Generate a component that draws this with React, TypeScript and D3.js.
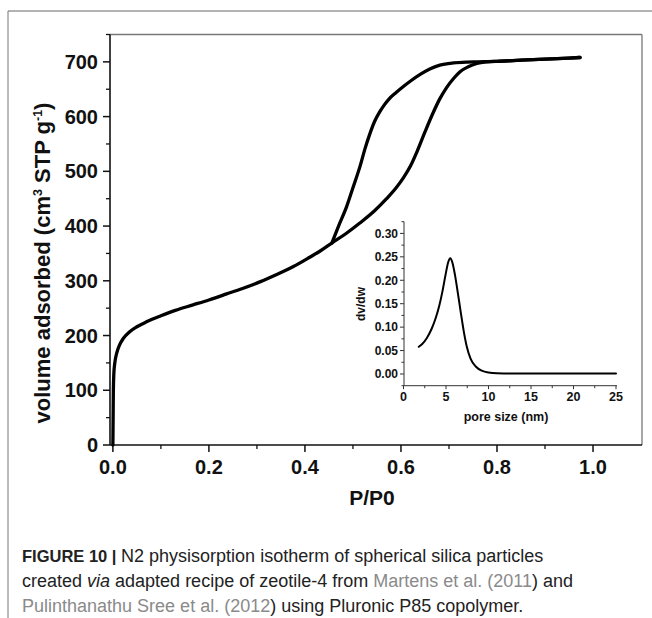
import React from 'react';
import * as d3 from 'd3';

const W = 652;
const H = 618;

// Main isotherm (P/P0, volume adsorbed)
const P_ADS = [0, 0.0005, 0.001, 0.002, 0.004, 0.008, 0.014, 0.022, 0.035, 0.05, 0.07, 0.1, 0.13, 0.167, 0.2, 0.237, 0.27, 0.306, 0.34, 0.376, 0.41, 0.431, 0.456, 0.485, 0.515, 0.545, 0.57, 0.59, 0.605, 0.62, 0.633, 0.65, 0.667, 0.68, 0.695, 0.71, 0.723, 0.74, 0.758, 0.78, 0.8, 0.85, 0.9, 0.95, 0.973];
const V_ADS = [0, 50, 100, 130, 150, 168, 183, 195, 207, 216, 225, 236, 246, 256, 265, 276, 286, 298, 311, 326, 343, 354, 369, 386, 406, 428, 450, 470, 488, 510, 535, 572, 607, 631, 653, 670, 682, 691, 697, 700, 701, 703, 705, 707, 708];
const P_DES = [0.456, 0.47, 0.487, 0.5, 0.515, 0.525, 0.535, 0.545, 0.556, 0.565, 0.575, 0.59, 0.605, 0.62, 0.64, 0.66, 0.681, 0.71, 0.737, 0.76, 0.78, 0.8, 0.85, 0.9, 0.95, 0.973];
const V_DES = [369, 400, 436, 470, 510, 541, 568, 591, 609, 621, 632, 644, 655, 665, 677, 687, 694, 698, 699.5, 700, 700.5, 701, 703, 705, 707, 708];

// Inset: pore size distribution
const PORE = [1.8, 2.2, 2.75, 3.3, 3.8, 4.2, 4.6, 4.95, 5.25, 5.5, 5.75, 6.05, 6.4, 6.75, 7.1, 7.45, 7.9, 8.5, 9.2, 10.0, 11, 13, 16, 20, 25];
const DVDW = [0.058, 0.064, 0.077, 0.096, 0.12, 0.145, 0.178, 0.212, 0.238, 0.247, 0.238, 0.212, 0.172, 0.13, 0.09, 0.058, 0.032, 0.016, 0.007, 0.003, 0.0015, 0.001, 0.001, 0.0008, 0.0008];

const X_TICKS = [0, 0.2, 0.4, 0.6, 0.8, 1.0];
const X_TICK_LABELS = ['0.0', '0.2', '0.4', '0.6', '0.8', '1.0'];
const Y_TICKS = [0, 100, 200, 300, 400, 500, 600, 700];
const Y_TICK_LABELS = ['0', '100', '200', '300', '400', '500', '600', '700'];
const IX_TICKS = [0, 5, 10, 15, 20, 25];
const IX_TICK_LABELS = ['0', '5', '10', '15', '20', '25'];
const IY_TICKS = [0, 0.05, 0.1, 0.15, 0.2, 0.25, 0.3];
const IY_TICK_LABELS = ['0.00', '0.05', '0.10', '0.15', '0.20', '0.25', '0.30'];

const FONT = '"Liberation Sans", Arial, Helvetica, sans-serif';

export default function App() {
  const left = 110, right = 642, top = 34.5, bottom = 445;
  const x = d3.scaleLinear().domain([-0.006, 1.102]).range([left, right]);
  const y = d3.scaleLinear().domain([0, 750]).range([bottom, top]);

  const ads = P_ADS.map((p, i) => [p, V_ADS[i]] as [number, number]);
  const des = P_DES.map((p, i) => [p, V_DES[i]] as [number, number]);
  const line = d3.line<[number, number]>().x(d => x(d[0])).y(d => y(d[1])).curve(d3.curveMonotoneX);

  const iLeft = 404, iRight = 617, iTop = 221.7, iBottom = 385.7;
  const ix = d3.scaleLinear().domain([0, 25]).range([403.5, 616]);
  const iy = d3.scaleLinear().domain([-0.025, 0.325]).range([iBottom, iTop]);
  const inset = PORE.map((p, i) => [p, DVDW[i]] as [number, number]);
  const iline = d3.line<[number, number]>().x(d => ix(d[0])).y(d => iy(d[1])).curve(d3.curveMonotoneX);

  const xMinor = d3.range(0.1, 1.1, 0.2);
  const yMinor = d3.range(50, 751, 100);
  const ixMinor = d3.range(2.5, 25, 5);
  const iyMinor = d3.range(-0.025, 0.326, 0.05);

  return (
    <svg width={W} height={H} style={{ position: 'absolute', left: 0, top: 0, display: 'block', background: '#fff' }} fontFamily={FONT}>
      <rect x={0} y={0} width={W} height={H} fill="#fff" />
      {/* outer frame */}
      <line x1={8} y1={11} x2={W} y2={11} stroke="#666" strokeWidth={1} />
      <line x1={8} y1={11} x2={8} y2={H} stroke="#777" strokeWidth={1} />

      {/* plot box top/right */}
      <line x1={left} y1={top} x2={right} y2={top} stroke="#777" strokeWidth={1.3} />
      <line x1={right} y1={top} x2={right} y2={bottom} stroke="#777" strokeWidth={1.3} />

      {/* main axes */}
      <line x1={left} y1={bottom} x2={right} y2={bottom} stroke="#111" strokeWidth={1.6} />
      <line x1={left} y1={top} x2={left} y2={bottom} stroke="#111" strokeWidth={1.6} />

      {X_TICKS.map((t, i) => (
        <g key={'xt' + i}>
          <line x1={x(t)} x2={x(t)} y1={bottom} y2={bottom + 7} stroke="#111" strokeWidth={1.5} />
          <text x={x(t)} y={474} textAnchor="middle" fontSize={20} fontWeight="bold" fill="#111">{X_TICK_LABELS[i]}</text>
        </g>
      ))}
      {xMinor.map((t, i) => (
        <line key={'xm' + i} x1={x(t)} x2={x(t)} y1={bottom} y2={bottom + 4} stroke="#111" strokeWidth={1.3} />
      ))}
      {Y_TICKS.map((t, i) => (
        <g key={'yt' + i}>
          <line x1={left - 7} x2={left} y1={y(t)} y2={y(t)} stroke="#111" strokeWidth={1.5} />
          <text x={98} y={y(t) + 7} textAnchor="end" fontSize={20} fontWeight="bold" fill="#111">{Y_TICK_LABELS[i]}</text>
        </g>
      ))}
      {yMinor.map((t, i) => (
        <line key={'ym' + i} x1={left - 4} x2={left} y1={y(t)} y2={y(t)} stroke="#111" strokeWidth={1.3} />
      ))}

      <text x={372} y={505} textAnchor="middle" fontSize={21} fontWeight="bold" fill="#111">P/P0</text>
      <text transform={`translate(50,263) rotate(-90)`} textAnchor="middle" fontSize={22} fontWeight="bold" fill="#111">
        volume adsorbed (cm<tspan dy={-8} fontSize={12.5}>3</tspan><tspan dy={8}> STP g</tspan><tspan dy={-8} fontSize={12.5}>-1</tspan><tspan dy={8}>)</tspan>
      </text>

      {/* isotherm */}
      <path d={line(ads) || ''} fill="none" stroke="#000" strokeWidth={3.3} strokeLinecap="round" strokeLinejoin="round" />
      <path d={line(des) || ''} fill="none" stroke="#000" strokeWidth={3.3} strokeLinecap="round" strokeLinejoin="round" />

      {/* inset */}
      <line x1={iLeft} y1={iTop} x2={iLeft} y2={iBottom} stroke="#333" strokeWidth={1} />
      <line x1={iLeft} y1={iBottom} x2={iRight} y2={iBottom} stroke="#333" strokeWidth={1} />
      {IY_TICKS.map((t, i) => (
        <g key={'iyt' + i}>
          <line x1={iLeft - 4} x2={iLeft} y1={iy(t)} y2={iy(t)} stroke="#333" strokeWidth={1} />
          <text x={398} y={iy(t) + 4.3} textAnchor="end" fontSize={12} fontWeight="bold" fill="#111">{IY_TICK_LABELS[i]}</text>
        </g>
      ))}
      {iyMinor.map((t, i) => (
        <line key={'iym' + i} x1={iLeft - 2.5} x2={iLeft} y1={iy(t)} y2={iy(t)} stroke="#333" strokeWidth={1} />
      ))}
      {IX_TICKS.map((t, i) => (
        <g key={'ixt' + i}>
          <line x1={ix(t)} x2={ix(t)} y1={iBottom} y2={iBottom + 3.5} stroke="#333" strokeWidth={1} />
          <text x={ix(t)} y={400.5} textAnchor="middle" fontSize={12.5} fontWeight="bold" fill="#111">{IX_TICK_LABELS[i]}</text>
        </g>
      ))}
      {ixMinor.map((t, i) => (
        <line key={'ixm' + i} x1={ix(t)} x2={ix(t)} y1={iBottom} y2={iBottom + 2.5} stroke="#333" strokeWidth={1} />
      ))}
      <text x={506} y={421} textAnchor="middle" fontSize={12.5} fontWeight="bold" fill="#111">pore size (nm)</text>
      <text transform={`translate(365,304) rotate(-90)`} textAnchor="middle" fontSize={12} fontWeight="bold" fill="#111">dv/dw</text>
      <path d={iline(inset) || ''} fill="none" stroke="#000" strokeWidth={2} strokeLinecap="round" strokeLinejoin="round" />

      {/* caption */}
      <g fontSize={18} fill="#222">
        <text x={22} y={562}>
          <tspan fontWeight="bold" fontSize={16.5}>FIGURE 10 | </tspan>N2 physisorption isotherm of spherical silica particles
        </text>
        <text x={22} y={587}>
          created <tspan fontStyle="italic">via</tspan> adapted recipe of zeotile-4 from <tspan fill="#8a8a8a">Martens et al. (2011</tspan>) and
        </text>
        <text x={22} y={612}>
          <tspan fill="#8a8a8a">Pulinthanathu Sree et al. (2012</tspan>) using Pluronic P85 copolymer.
        </text>
      </g>
    </svg>
  );
}
